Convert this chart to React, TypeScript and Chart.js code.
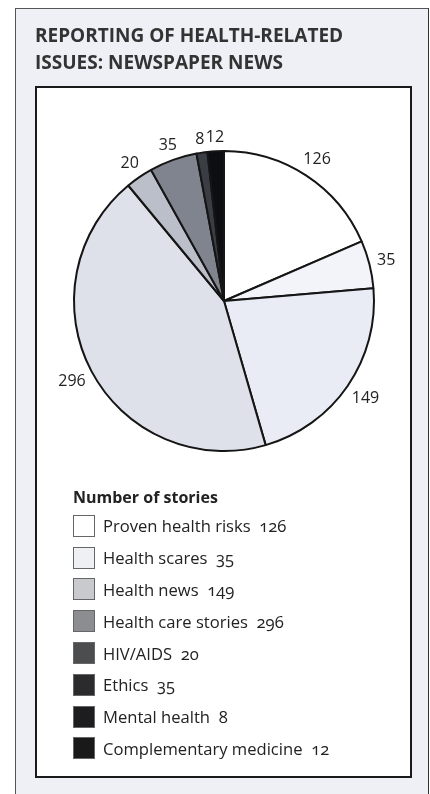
import React, { useEffect, useRef } from "react";
import { Chart, registerables } from "chart.js";

Chart.register(...registerables);

const titleLines = ["REPORTING OF HEALTH-RELATED", "ISSUES: NEWSPAPER NEWS"];
const legendTitle = "Number of stories";
const categories = [
  "Proven health risks",
  "Health scares",
  "Health news",
  "Health care stories",
  "HIV/AIDS",
  "Ethics",
  "Mental health",
  "Complementary medicine",
];
const stories = [126, 35, 149, 296, 20, 35, 8, 12];
const sliceColors = ["#ffffff", "#f2f4fa", "#e9ecf4", "#dee1ea", "#bbbfca", "#80848f", "#3a3d44", "#0c0e12"];
const legendColors = ["#ffffff", "#eef0f4", "#c8cacd", "#8b8d91", "#4b4d4f", "#2b2b2d", "#1d1d1f", "#19191a"];

const FONT = '"Open Sans", "Noto Sans", sans-serif';

const labelPlugin = {
  id: "sliceLabels",
  afterDatasetsDraw(chart: any) {
    const ctx = chart.ctx;
    const meta = chart.getDatasetMeta(0);
    ctx.save();
    ctx.font = `16px ${FONT}`;
    ctx.fillStyle = "#222";
    ctx.textAlign = "center";
    ctx.textBaseline = "middle";
    meta.data.forEach((arc: any, i: number) => {
      const p = arc.getProps(["x", "y", "startAngle", "endAngle", "outerRadius"], true);
      const a = (p.startAngle + p.endAngle) / 2;
      const txt = String(stories[i]);
      const w = ctx.measureText(txt).width;
      const off = 7 + Math.abs(Math.cos(a)) * (w / 2) + Math.abs(Math.sin(a)) * 6;
      const r = p.outerRadius + off;
      ctx.fillText(txt, p.x + Math.cos(a) * r, p.y + Math.sin(a) * r);
    });
    ctx.restore();
  },
};

export default function App() {
  const ref = useRef<HTMLCanvasElement | null>(null);
  useEffect(() => {
    document.documentElement.style.overflow = "hidden";
    if (!ref.current) return;
    const chart = new Chart(ref.current, {
      type: "pie",
      data: {
        labels: categories,
        datasets: [
          {
            data: stories,
            backgroundColor: sliceColors,
            borderColor: "#151515",
            borderWidth: 2,
          },
        ],
      },
      options: {
        animation: false,
        responsive: false,
        devicePixelRatio: 1,
        layout: { padding: { left: 36, right: 34, top: 62, bottom: 18 } },
        plugins: { legend: { display: false }, tooltip: { enabled: false } },
      },
      plugins: [labelPlugin],
    });
    return () => chart.destroy();
  }, []);

  return (
    <div style={{ position: "relative", width: 414, height: 778, fontFamily: FONT }}>
      <div
        style={{
          position: "fixed",
          left: 15,
          top: 8,
          width: 414,
          height: 786,
          boxSizing: "border-box",
          background: "#eef0f5",
          borderTop: "1px solid #555",
          borderLeft: "1px solid #555",
          borderRight: "1px solid #333",
        }}
      />
      <div
        style={{
          position: "absolute",
          left: 27,
          top: 14,
          fontWeight: 700,
          fontSize: 19,
          lineHeight: "27px",
          color: "#333",
          whiteSpace: "nowrap",
        }}
      >
        {titleLines.map((t, i) => (
          <div key={i}>{t}</div>
        ))}
      </div>
      <div
        style={{
          position: "absolute",
          left: 27,
          top: 78,
          width: 377,
          height: 692,
          boxSizing: "border-box",
          border: "2px solid #1a1a1a",
          background: "#fff",
        }}
      >
        <canvas ref={ref} width={372} height={382} style={{ display: "block", width: 372, height: 382 }} />
        <div style={{ position: "absolute", left: 36, top: 399, color: "#222" }}>
          <div style={{ fontWeight: 700, fontSize: 16, lineHeight: "20px", marginBottom: 3 }}>{legendTitle}</div>
          {categories.map((c, i) => (
            <div key={c} style={{ display: "flex", alignItems: "center", height: 31.8 }}>
              <div
                style={{
                  width: 22,
                  height: 22,
                  boxSizing: "border-box",
                  border: "1px solid #666",
                  background: legendColors[i],
                  marginRight: 8,
                }}
              />
              <span style={{ fontSize: 16.6, fontVariantNumeric: "oldstyle-nums" }}>
                {c}&nbsp;&nbsp;{stories[i]}
              </span>
            </div>
          ))}
        </div>
      </div>
    </div>
  );
}
